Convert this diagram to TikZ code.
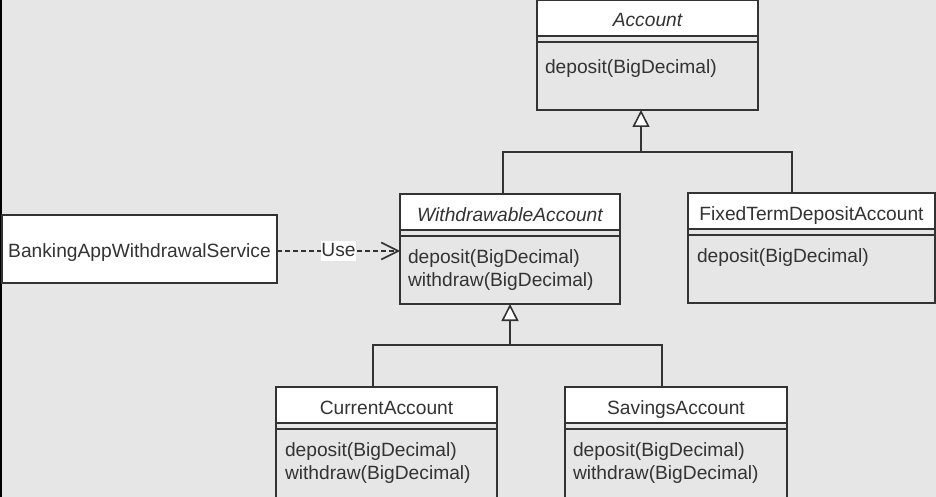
\documentclass[tikz,border=0pt]{standalone}
\usepackage{fontspec}
\setmainfont{Liberation Sans}
\usetikzlibrary{calc,arrows.meta}

\definecolor{canvas}{HTML}{E6E6E6}
\definecolor{ink}{HTML}{333333}

\tikzset{
  x=1pt, y=-1pt,
  txt/.style={text=ink, inner sep=0pt, outer sep=0pt, font=\fontsize{19.2}{22}\selectfont},
  classbody/.style={draw=ink, line width=1.6pt, fill=canvas, anchor=north west,
                    inner sep=0pt, outer sep=0pt},
  classhead/.style={draw=ink, line width=1.6pt, fill=white, anchor=north west,
                    inner sep=0pt, outer sep=0pt},
  classname/.style={txt, anchor=base},
  operation/.style={txt, anchor=base west},
  link/.style={draw=ink, line width=1.6pt},
  gen/.style={link, -{Triangle[open, length=17pt 0 0, width=17pt 0 0, fill=white]}},
  dep/.style={link, dash pattern=on 4.5pt off 3.5pt,
              -{Straight Barb[length=17pt 0 0, width=17pt 0 0, line width=1.6pt]}},
}

% draw a class box: body, white header, separator line
\newcommand{\umlbox}[6]{% name, x, y, width, height, header height
  \node[classbody, minimum width=#4pt, minimum height=#5pt] (#1) at (#2,#3) {};
  \node[classhead, minimum width=#4pt, minimum height=#6pt] (#1-h) at (#2,#3) {};
  \draw[link] ($(#1.north west)+(0,#6+6)$) -- ($(#1.north east)+(0,#6+6)$);
}

\begin{document}
\begin{tikzpicture}
  \clip (0,0) rectangle (936,497);
  \fill[canvas] (0,0) rectangle (936,497);
  \draw[line width=2pt, black] (1,0) -- (1,497);

  % classes
  \umlbox{acc}{537}{0}{221}{110}{36}
  \node[classname, font=\fontsize{19.2}{22}\selectfont\itshape] (acc-t) at (647.5,27) {Account};
  \node[operation] (acc-m1) at (545,74) {deposit(BigDecimal)};

  \umlbox{wa}{400}{194}{220}{110}{36}
  \node[classname, font=\fontsize{19.2}{22}\selectfont\itshape] (wa-t) at (510,221) {WithdrawableAccount};
  \node[operation] (wa-m1) at (408,263) {deposit(BigDecimal)};
  \node[operation] (wa-m2) at (408,286) {withdraw(BigDecimal)};

  \umlbox{fix}{688}{193}{247}{110}{36}
  \node[classname] (fix-t) at (811.5,220) {FixedTermDepositAccount};
  \node[operation] (fix-m1) at (697,262) {deposit(BigDecimal)};

  \umlbox{cur}{276}{387}{221}{130}{36}
  \node[classname] (cur-t) at (386.5,414) {CurrentAccount};
  \node[operation] (cur-m1) at (285,456) {deposit(BigDecimal)};
  \node[operation] (cur-m2) at (285,479) {withdraw(BigDecimal)};

  \umlbox{sav}{565}{387}{222}{130}{36}
  \node[classname] (sav-t) at (676,414) {SavingsAccount};
  \node[operation] (sav-m1) at (573,456) {deposit(BigDecimal)};
  \node[operation] (sav-m2) at (573,479) {withdraw(BigDecimal)};

  % service
  \node[draw=ink, line width=1.6pt, fill=white, anchor=north west, inner sep=0pt,
        outer sep=0pt, minimum width=275pt, minimum height=68pt] (svc) at (2,215) {};
  \node[classname] (svc-t) at (139.5,257) {BankingAppWithdrawalService};

  % generalisation trees
  \coordinate (j1) at (641,152);
  \draw[link] ($(wa.north west)+(103,0)$) |- (j1);
  \draw[link] ($(fix.north west)+(104,0)$) |- (j1);
  \draw[gen] (j1) -- (acc.south -| j1);

  \coordinate (j2) at (510,345);
  \draw[link] ($(cur.north west)+(97,0)$) |- (j2);
  \draw[link] ($(sav.north west)+(97,0)$) |- (j2);
  \draw[gen] (j2) -- (wa.south -| j2);

  % usage dependency
  \coordinate (u0) at (svc.east |- 0,251);
  \draw[dep] (u0) -- (wa.west |- u0)
    node[midway, txt, fill=white, inner xsep=0pt, inner ysep=1pt,
         text height=14pt, text depth=4pt] (use) {Use};
\end{tikzpicture}
\end{document}
